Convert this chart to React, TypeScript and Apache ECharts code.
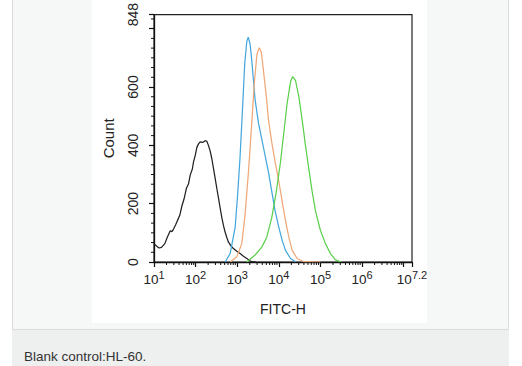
import React, { useEffect, useRef } from 'react';
import * as echarts from 'echarts';

// x values are decades (log10 of FITC-H), y values are counts
const blackX = [1.0, 1.06, 1.12, 1.18, 1.26, 1.32, 1.39, 1.43, 1.47, 1.52, 1.56, 1.62, 1.67, 1.72, 1.78, 1.83, 1.87, 1.92, 1.95, 1.99, 2.03, 2.07, 2.11, 2.17, 2.23, 2.27, 2.31, 2.35, 2.39, 2.43, 2.47, 2.51, 2.55, 2.59, 2.63, 2.67, 2.71, 2.75, 2.79, 2.85, 2.91, 2.99, 3.07, 3.15, 3.23, 3.30, 3.35, 3.45];
const blackY = [63, 55, 48, 50, 63, 85, 107, 104, 113, 128, 141, 160, 192, 215, 253, 268, 298, 318, 343, 365, 393, 405, 412, 410, 416, 414, 399, 380, 354, 320, 287, 252, 219, 185, 152, 125, 102, 84, 68, 55, 46, 37, 29, 20, 12, 5, 1, 0];

const blueX = [2.71, 2.83, 2.95, 3.01, 3.07, 3.13, 3.18, 3.23, 3.265, 3.31, 3.35, 3.39, 3.43, 3.51, 3.59, 3.67, 3.75, 3.83, 3.91, 4.0, 4.08, 4.16, 4.28, 4.40];
const blueY = [0, 29, 119, 231, 365, 533, 679, 757, 771, 746, 690, 623, 556, 477, 421, 365, 309, 242, 175, 119, 74, 40, 12, 1];

const orangeX = [2.83, 2.99, 3.11, 3.19, 3.27, 3.35, 3.41, 3.475, 3.53, 3.58, 3.63, 3.70, 3.75, 3.83, 3.91, 4.0, 4.08, 4.16, 4.24, 4.32, 4.44, 4.6, 5.0];
const orangeY = [0, 18, 63, 164, 309, 477, 612, 713, 735, 718, 656, 567, 488, 410, 343, 276, 208, 141, 85, 40, 12, 1, 0];

const greenX = [3.23, 3.43, 3.59, 3.71, 3.83, 3.94, 4.04, 4.12, 4.20, 4.28, 4.33, 4.40, 4.48, 4.56, 4.64, 4.72, 4.80, 4.88, 5.0, 5.12, 5.24, 5.36, 5.5];
const greenY = [0, 24, 51, 85, 152, 242, 343, 444, 545, 617, 636, 623, 567, 488, 399, 320, 242, 175, 108, 63, 29, 7, 0];

const xMin = 1;
const xMax = 7.2;
const yMax = 848;
const yInterval = 200;

const minorX: number[] = [];
for (let d = 1; d < 8; d++) {
  for (let k = 2; k <= 9; k++) {
    const v = d + Math.log10(k);
    if (v < xMax) minorX.push(v);
  }
}
const minorY: number[] = [];
for (let i = 1; (i * yInterval) / 6 < yMax; i++) {
  if (i % 6 !== 0) minorY.push((i * yInterval) / 6);
}

const caption = 'Blank control:HL-60.';

export default function App() {
  const ref = useRef<HTMLDivElement>(null);
  useEffect(() => {
    const chart = echarts.init(ref.current!, null, { renderer: 'svg' });
    const font = 'Arial, "Liberation Sans", sans-serif';
    const zip = (xs: number[], ys: number[]) => xs.map((x, i) => [x, ys[i]]);
    const lineSeries = (name: string, xs: number[], ys: number[], color: string) => ({
      type: 'line',
      name,
      data: zip(xs, ys),
      showSymbol: false,
      symbol: 'none',
      lineStyle: { color, width: 1.25 },
      itemStyle: { color },
      z: 3,
    });
    chart.setOption({
      animation: false,
      textStyle: { fontFamily: font },
      graphic: {
        elements: [
          { type: 'rect', z: -100, silent: true, shape: { x: 12.5, y: -2, width: 496, height: 331.5 }, style: { fill: '#f6f7f7', stroke: '#dcdcdc', lineWidth: 1 } },
          { type: 'rect', z: -99, silent: true, shape: { x: 12, y: 330, width: 497, height: 40 }, style: { fill: '#eeefef' } },
          { type: 'rect', z: -98, silent: true, shape: { x: 92, y: 0, width: 335, height: 323 }, style: { fill: '#ffffff' } },
          { type: 'text', z: 10, x: 24, y: 356.5, style: { text: caption, fill: '#333333', fontSize: 13.5, fontFamily: font, verticalAlign: 'middle' } },
        ],
      },
      grid: { left: 154, right: 110, top: 8, bottom: 104, show: true, borderColor: '#222', borderWidth: 1.2, backgroundColor: 'transparent' },
      xAxis: {
        type: 'value',
        min: xMin,
        max: xMax,
        interval: 1,
        splitLine: { show: false },
        axisLine: { show: true, lineStyle: { color: '#111', width: 1.3 } },
        axisTick: { show: true, length: 5, lineStyle: { color: '#111', width: 1.2 } },
        axisLabel: {
          margin: 7,
          formatter: (v: number) => {
            const r = Math.round(v * 10) / 10;
            if (r === 7) return '';
            return `{b|10}{s|${r}}`;
          },
          rich: {
            b: { fontSize: 13.5, color: '#222', lineHeight: 20, fontFamily: font },
            s: { fontSize: 11, color: '#222', padding: [0, 0, 10, 0], fontFamily: font },
          },
        },
        name: 'FITC-H',
        nameLocation: 'middle',
        nameGap: 40,
        nameTextStyle: { fontSize: 14, color: '#222', fontFamily: font },
      },
      yAxis: {
        type: 'value',
        min: 0,
        max: yMax,
        interval: yInterval,
        splitLine: { show: false },
        axisLine: { show: true, lineStyle: { color: '#111', width: 1.3 } },
        axisTick: { show: true, length: 5, lineStyle: { color: '#111', width: 1.2 } },
        axisLabel: {
          rotate: 90,
          margin: 14,
          fontSize: 14,
          color: '#222',
          fontFamily: font,
          formatter: (v: number) => (v === 800 ? '' : String(v)),
        },
        name: 'Count',
        nameLocation: 'middle',
        nameGap: 38,
        nameTextStyle: { fontSize: 15, color: '#222', fontFamily: font },
      },
      series: [
        lineSeries('Blank', blackX, blackY, '#222222'),
        lineSeries('Isotype', blueX, blueY, '#45a8dc'),
        lineSeries('Sample2', orangeX, orangeY, '#f0a878'),
        lineSeries('Sample3', greenX, greenY, '#5cd04c'),
        {
          type: 'custom',
          coordinateSystem: 'cartesian2d',
          silent: true,
          clip: false,
          z: 5,
          data: minorX.map((v) => [v, 0]),
          renderItem: (_p: any, api: any) => {
            const pt = api.coord([api.value(0), 0]);
            return { type: 'line', shape: { x1: pt[0], y1: pt[1], x2: pt[0], y2: pt[1] + 3 }, style: { stroke: '#111', lineWidth: 1 } };
          },
        },
        {
          type: 'custom',
          coordinateSystem: 'cartesian2d',
          silent: true,
          clip: false,
          z: 5,
          data: minorY.map((v) => [xMin, v]),
          renderItem: (_p: any, api: any) => {
            const pt = api.coord([xMin, api.value(1)]);
            return { type: 'line', shape: { x1: pt[0], y1: pt[1], x2: pt[0] - 3, y2: pt[1] }, style: { stroke: '#111', lineWidth: 1 } };
          },
        },
      ],
    });
    return () => chart.dispose();
  }, []);
  return <div ref={ref} style={{ position: 'absolute', left: 0, top: 0, width: 522, height: 366, background: '#ffffff' }} />;
}
